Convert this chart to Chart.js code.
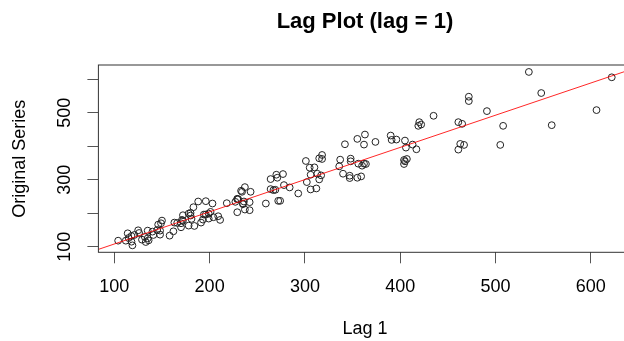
<!DOCTYPE html>
<html>
<head>
<meta charset="utf-8">
<title>Lag Plot</title>
<script src="https://cdn.jsdelivr.net/npm/chart.js@4.4.0/dist/chart.umd.min.js"></script>
<style>
  body { margin: 0; background: #fff; overflow: hidden; }
  #wrap { width: 624px; height: 341px; overflow: hidden; }
</style>
</head>
<body>
<div id="wrap"><canvas id="chart" width="645" height="341"></canvas></div>
<script>
// Monthly series (1949-1960), lag 1 pairs are taken from it
const series = [
  112, 118, 132, 129, 121, 135, 148, 148, 136, 119, 104, 118,
  115, 126, 141, 135, 125, 149, 170, 170, 158, 133, 114, 140,
  145, 150, 178, 163, 172, 178, 199, 199, 184, 162, 146, 166,
  171, 180, 193, 181, 183, 218, 230, 242, 209, 191, 172, 194,
  196, 196, 236, 235, 229, 243, 264, 272, 237, 211, 180, 201,
  204, 188, 235, 227, 234, 264, 302, 293, 259, 229, 203, 229,
  242, 233, 267, 269, 270, 315, 364, 347, 312, 274, 237, 278,
  284, 277, 317, 313, 318, 374, 413, 405, 355, 306, 271, 306,
  315, 301, 356, 348, 355, 422, 465, 467, 404, 347, 305, 336,
  340, 318, 362, 348, 363, 435, 491, 505, 404, 359, 310, 337,
  360, 342, 406, 396, 420, 472, 548, 559, 463, 407, 362, 405,
  417, 391, 419, 461, 472, 535, 622, 606, 508, 461, 390, 432
];
const lagValues = series.slice(0, -1);
const originalValues = series.slice(1);

const xTicks = [100, 200, 300, 400, 500, 600];
const yTicks = [100, 200, 300, 400, 500, 600];
const yTickLabels = [100, 300, 500];

// red fitted line at both ends of the axis
const fitX = [83.28, 642.72];
const fitY = [92, 630];

const axisMin = 83.28;
const axisMax = 642.72;

const FONT = '"Liberation Sans", Arial, sans-serif';
Chart.defaults.color = '#000';
Chart.defaults.font.family = FONT;

// box around the plot + main title
const frame = {
  id: 'frame',
  afterDraw(c) {
    const { ctx, chartArea: a } = c;
    ctx.save();
    ctx.strokeStyle = '#333';
    ctx.lineWidth = 1;
    ctx.strokeRect(a.left, a.top, a.right - a.left, a.bottom - a.top);
    ctx.fillStyle = '#000';
    ctx.font = 'bold 22px ' + FONT;
    ctx.textAlign = 'center';
    ctx.textBaseline = 'middle';
    ctx.fillText('Lag Plot (lag = 1)', (a.left + a.right) / 2, 22);
    ctx.restore();
  }
};

const points = lagValues.map((v, i) => ({ x: v, y: originalValues[i] }));
const fitLine = fitX.map((v, i) => ({ x: v, y: fitY[i] }));

const ctx = document.getElementById('chart').getContext('2d');
new Chart(ctx, {
  type: 'scatter',
  data: {
    datasets: [
      {
        label: 'fit',
        data: fitLine,
        showLine: true,
        borderColor: 'rgba(255, 0, 0, 0.85)',
        borderWidth: 1,
        pointRadius: 0
      },
      {
        label: 'Original Series',
        data: points,
        pointStyle: 'circle',
        pointRadius: 3.4,
        borderColor: '#222',
        borderWidth: 1,
        backgroundColor: 'rgba(0,0,0,0)'
      }
    ]
  },
  options: {
    responsive: false,
    animation: false,
    devicePixelRatio: 1,
    layout: { padding: { top: 65, right: 13.5, bottom: 0, left: 0 } },
    plugins: {
      legend: { display: false },
      tooltip: { enabled: false }
    },
    scales: {
      x: {
        type: 'linear',
        min: axisMin,
        max: axisMax,
        afterFit: s => { s.height = 88.7; },
        afterBuildTicks: s => { s.ticks = xTicks.map(v => ({ value: v })); },
        grid: { drawOnChartArea: false, tickLength: 11, color: '#555' },
        border: { display: false },
        ticks: { padding: 13, font: { size: 18 }, maxRotation: 0 },
        title: { display: true, text: 'Lag 1', font: { size: 18 }, padding: { top: 0, bottom: 1 } }
      },
      y: {
        type: 'linear',
        min: axisMin,
        max: axisMax,
        afterFit: s => { s.width = 98.4; },
        afterBuildTicks: s => { s.ticks = yTicks.map(v => ({ value: v })); },
        grid: { drawOnChartArea: false, tickLength: 11, color: '#555' },
        border: { display: false },
        ticks: {
          padding: 7,
          autoSkip: false,
          minRotation: 90,
          maxRotation: 90,
          crossAlign: 'center',
          font: { size: 18 },
          callback: v => yTickLabels.includes(v) ? String(v) : ''
        },
        title: { display: true, text: 'Original Series', font: { size: 18 }, padding: { top: 9, bottom: 0 } }
      }
    }
  },
  plugins: [frame]
});
</script>
</body>
</html>
